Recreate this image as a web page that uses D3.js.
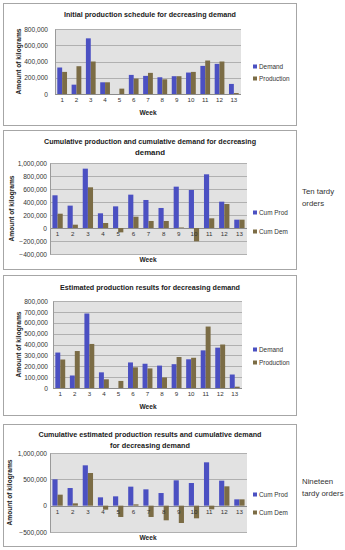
<!DOCTYPE html>
<html>
<head>
<meta charset="utf-8">
<script src="https://cdn.jsdelivr.net/npm/d3@7"></script>
<style>
  html, body { margin: 0; padding: 0; background: #fff; }
  svg { display: block; }
  text { font-family: "Liberation Sans", Arial, sans-serif; }
</style>
</head>
<body>
<svg id="chart" width="345" height="550"></svg>
<script>
// ---- data ----
const weeks = ["1","2","3","4","5","6","7","8","9","10","11","12","13"];
const demand = [326000,115000,685000,144000,0,235000,223000,206000,219000,264000,346000,371000,124000];
const initialProduction = [272000,342000,400000,144000,66000,190000,260000,181000,219000,272000,412000,400000,12000];
const cumProdInitial = [503000,344000,913000,226000,333000,513000,431000,308000,636000,585000,826000,405000,128000];
const cumDemInitial = [220000,51000,626000,77000,-67000,174000,108000,108000,8000,-205000,149000,369000,128000];
const estimatedProduction = [262000,340000,405000,80000,65000,190000,180000,97000,285000,278000,565000,400000,12000];
const cumProdEstimated = [500000,335000,766000,158000,177000,361000,310000,240000,481000,430000,823000,475000,120000];
const cumDemEstimated = [209000,44000,620000,-76000,-215000,25000,-215000,-278000,-329000,-240000,-70000,367000,120000];

const ticksA = [0,200000,400000,600000,800000];
const ticksB = [-400000,-200000,0,200000,400000,600000,800000,1000000];
const ticksC = [0,100000,200000,300000,400000,500000,600000,700000,800000];
const ticksD = [-500000,0,500000,1000000];

const titles = [
  ["Initial production schedule for decreasing demand"],
  ["Cumulative production and cumulative demand for decreasing", "demand"],
  ["Estimated production results for decreasing demand"],
  ["Cumulative estimated production results and cumulative demand", "for decreasing demand"]
];
const seriesNames1 = ["Demand", "Production"];
const seriesNames2 = ["Cum Prod", "Cum Dem"];
const sideNotes = [null, ["Ten tardy", "orders"], null, ["Nineteen", "tardy orders"]];
const yTitle = "Amount of kilograms";
const xTitle = "Week";

// ---- styles / layout ----
const colors = ["#4b50c2", "#7b6c45"];
const svg = d3.select("#chart");
const fmt = d3.format(",");

const layouts = [
  { box:[3,3,293,122], plot:[55,29,241,94], titleY:[17], titleW:[172], ytX:19, weekY:115, legendY:[67,79], xLabelOnZero:false, labelRight:7 },
  { box:[3,130,293,139], plot:[50,163,247,254], titleY:[144,155], titleW:[212,30], ytX:12, weekY:262, legendY:[213,232], xLabelOnZero:true, labelRight:3 },
  { box:[3,275,293,140], plot:[53,301,242,388], titleY:[290], titleW:[180], ytX:19, weekY:409, legendY:[350,363], xLabelOnZero:false, labelRight:5 },
  { box:[3,424,293,122], plot:[50,453,247,532], titleY:[437,448], titleW:[223,80], ytX:10, weekY:540, legendY:[495,513], xLabelOnZero:true, labelRight:3 }
];

const charts = [
  { series:[demand, initialProduction], names:seriesNames1, ticks:ticksA },
  { series:[cumProdInitial, cumDemInitial], names:seriesNames2, ticks:ticksB },
  { series:[demand, estimatedProduction], names:seriesNames1, ticks:ticksC },
  { series:[cumProdEstimated, cumDemEstimated], names:seriesNames2, ticks:ticksD }
];

charts.forEach((c, i) => {
  const L = layouts[i];
  const g = svg.append("g");
  // outer border
  g.append("rect").attr("x", L.box[0]+0.5).attr("y", L.box[1]+0.5)
    .attr("width", L.box[2]).attr("height", L.box[3])
    .attr("fill", "#fff").attr("stroke", "#a6a6a6").attr("stroke-width", 1);

  const [px0, py0, px1, py1] = L.plot;
  const y = d3.scaleLinear().domain(d3.extent(c.ticks)).range([py1, py0]);
  const x = d3.scaleBand().domain(weeks).range([px0, px1]).paddingInner(0.32).paddingOuter(0.16);
  const xs = d3.scaleBand().domain([0,1]).range([0, x.bandwidth()]);

  // plot area
  g.append("rect").attr("x", px0).attr("y", py0).attr("width", px1-px0).attr("height", py1-py0)
    .attr("fill", "#e2e2e2");
  // gridlines
  g.append("g").selectAll("line").data(c.ticks).join("line")
    .attr("x1", px0).attr("x2", px1)
    .attr("y1", d => Math.round(y(d))+0.5).attr("y2", d => Math.round(y(d))+0.5)
    .attr("stroke", d => d === 0 ? "#8c8c8c" : "#b0b0b0").attr("stroke-width", 1);

  // y axis
  const yAxis = d3.axisLeft(y).tickValues(c.ticks).tickFormat(fmt).tickSize(0).tickPadding(L.labelRight);
  const ya = g.append("g").attr("transform", `translate(${px0},0)`).call(yAxis);
  ya.select(".domain").attr("stroke", "#9a9a9a");
  ya.selectAll("text").attr("font-size", 6.6).attr("fill", "#333");

  // bars
  c.series.forEach((vals, s) => {
    g.append("g").selectAll("rect").data(vals).join("rect")
      .attr("x", (d, k) => x(weeks[k]) + xs(s))
      .attr("width", xs.bandwidth())
      .attr("y", d => y(Math.max(0, d)))
      .attr("height", d => Math.abs(y(d) - y(0)))
      .attr("fill", colors[s]);
  });

  // x axis labels
  const xAxis = d3.axisBottom(x).tickSize(0).tickPadding(4);
  const xaY = L.xLabelOnZero ? y(0) : py1;
  const xa = g.append("g").attr("transform", `translate(0,${xaY})`).call(xAxis);
  xa.select(".domain").remove();
  xa.selectAll("text").attr("font-size", 6.2).attr("fill", "#333");

  // titles
  titles[i].forEach((t, k) => {
    g.append("text").attr("x", 150).attr("y", L.titleY[k]).attr("text-anchor", "middle")
      .attr("font-size", 7.2).attr("font-weight", "bold").attr("fill", "#1a1a1a")
      .attr("textLength", L.titleW[k]).attr("lengthAdjust", "spacingAndGlyphs").text(t);
  });

  // y title
  g.append("text").attr("transform", `translate(${L.ytX},${(py0+py1)/2}) rotate(-90)`)
    .attr("text-anchor", "middle").attr("dy", "0.35em")
    .attr("font-size", 6.6).attr("font-weight", "bold").attr("fill", "#1a1a1a").text(yTitle);

  // x title
  g.append("text").attr("x", 148).attr("y", L.weekY).attr("text-anchor", "middle")
    .attr("font-size", 6.6).attr("font-weight", "bold").attr("fill", "#1a1a1a").text(xTitle);

  // legend
  c.names.forEach((n, s) => {
    g.append("rect").attr("x", 253).attr("y", L.legendY[s]-2.5).attr("width", 4).attr("height", 4)
      .attr("fill", colors[s]);
    g.append("text").attr("x", 259).attr("y", L.legendY[s]).attr("dy", "0.35em")
      .attr("font-size", 6.4).attr("fill", "#333").text(n);
  });

  // side note
  if (sideNotes[i]) {
    sideNotes[i].forEach((t, k) => {
      g.append("text").attr("x", 302).attr("y", (i === 1 ? 194 : 484) + k*11.5)
        .attr("font-size", 7.8).attr("fill", "#333").text(t);
    });
  }
});
</script>
</body>
</html>
